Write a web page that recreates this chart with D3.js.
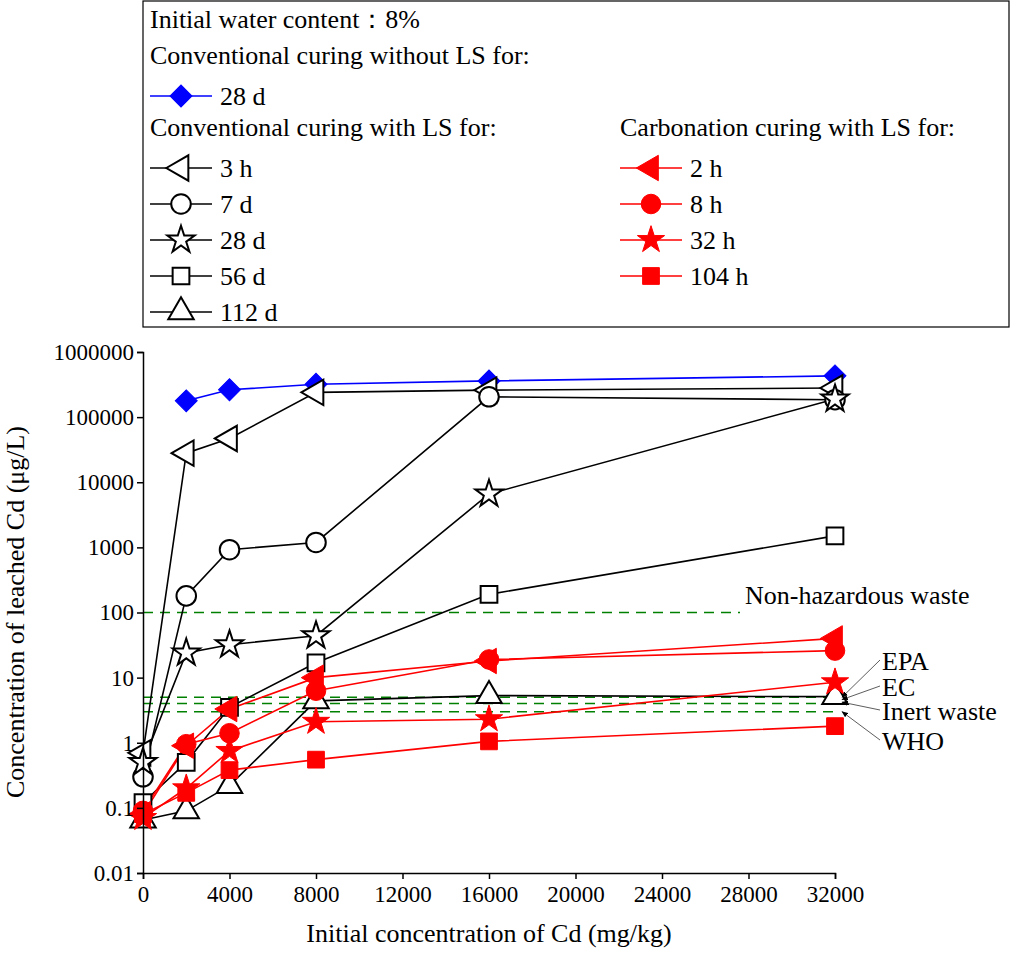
<!DOCTYPE html>
<html><head><meta charset="utf-8">
<script src="https://cdn.jsdelivr.net/npm/d3@7"></script>
<style>body{margin:0;background:#fff}svg text{font-family:"Liberation Serif","DejaVu Serif","Noto Serif",serif !important}</style>
</head><body><svg id="c" width="1016" height="954"></svg>
<script>
const xVals=[0,2000,4000,8000,16000,32000];
const blue28d=[null,178000,263000,320000,360000,430000];
const conv3h=[0.7,28000,47000,240000,260000,280000];
const conv7d=[0.3,180,920,1190,205000,185000];
const conv28d=[0.5,24,32,44,6600,190000];
const conv56d=[0.12,0.5,3.5,16.9,190,1500];
const conv112d=[0.065,0.09,0.22,4.4,5.3,5.1];
const carb2h=[0.08,0.9,3.3,10,18,40];
const carb8h=[0.09,0.95,1.4,6.3,19,26];
const carb32h=[0.07,0.2,0.75,2.1,2.3,8.5];
const carb104h=[0.08,0.17,0.38,0.55,1.05,1.8];
const limits=[100,5,4,3];
const xTicks=[0,4000,8000,12000,16000,20000,24000,28000,32000];
const yTicks=[0.01,0.1,1,10,100,1000,10000,100000,1000000];

const svg=d3.select("#c");
const x=d3.scaleLinear().domain([0,32000]).range([143,835]);
const y=d3.scaleLog().domain([0.01,1000000]).range([873,352]);
const series=[
 {d:blue28d,c:"#0000ff",s:"diamond",f:true},
 {d:conv3h,c:"#000",s:"ltri",f:false},
 {d:conv7d,c:"#000",s:"circle",f:false},
 {d:conv28d,c:"#000",s:"star",f:false},
 {d:conv56d,c:"#000",s:"square",f:false},
 {d:conv112d,c:"#000",s:"tri",f:false},
 {d:carb2h,c:"#ff0000",s:"ltri",f:true},
 {d:carb8h,c:"#ff0000",s:"circle",f:true},
 {d:carb32h,c:"#ff0000",s:"star",f:true},
 {d:carb104h,c:"#ff0000",s:"square",f:true}];
const shp={diamond:d3.symbol(d3.symbolSquare,240),circle:d3.symbol(d3.symbolCircle,300),star:d3.symbol(d3.symbolStar,230),square:d3.symbol(d3.symbolSquare,280),tri:d3.symbol(d3.symbolTriangle,280),ltri:d3.symbol(d3.symbolTriangle,280)};
function mark(g,s,c,f,cx,cy){
 g.append("path").attr("d",shp[s]()).attr("transform",`translate(${cx},${cy})`+(s==="ltri"?" rotate(-90)":"")+(s==="diamond"?" rotate(45)":""))
  .attr("fill",f?c:"#fff").attr("stroke",c).attr("stroke-width",f?1:2);
}
limits.forEach(v=>svg.append("line").attr("x1",143).attr("x2",v===100?740:835).attr("y1",y(v)).attr("y2",y(v)).attr("stroke","#008000").attr("stroke-width",1.6).attr("stroke-dasharray","10,7"));
const line=d3.line().defined(d=>d[1]!=null).x(d=>x(d[0])).y(d=>y(d[1]));
series.forEach(s=>{
 const pts=xVals.map((v,i)=>[v,s.d[i]]);
 svg.append("path").attr("d",line(pts)).attr("fill","none").attr("stroke",s.c).attr("stroke-width",1.6);
});
series.forEach(s=>{xVals.forEach((v,i)=>{if(s.d[i]!=null)mark(svg,s.s,s.c,s.f,x(v),y(s.d[i]));});});
const ax=svg.append("g").attr("transform","translate(0,873)").call(d3.axisBottom(x).tickValues(xTicks).tickFormat(d3.format("d")).tickSizeOuter(0).tickSize(6));
ax.selectAll("text").attr("font-size",23).attr("fill","#000").attr("dy","0.85em");
const ay=svg.append("g").attr("transform","translate(143,0)").call(d3.axisLeft(y).tickValues(yTicks).tickFormat(d=>d3.format("")(d)).tickSizeOuter(0).tickSize(6));
ay.selectAll("text").attr("font-size",23).attr("fill","#000");
svg.selectAll(".domain,.tick line").attr("stroke","#000").attr("stroke-width",1.5);
svg.append("text").attr("x",489).attr("y",942).attr("text-anchor","middle").attr("font-size",26).text("Initial concentration of Cd (mg/kg)");
svg.append("text").attr("transform","translate(24,612) rotate(-90)").attr("text-anchor","middle").attr("font-size",26).text("Concentration of leached Cd (μg/L)");
svg.append("defs").append("marker").attr("id","ar").attr("viewBox","0 0 10 10").attr("refX",9).attr("refY",5).attr("markerWidth",8).attr("markerHeight",8).attr("orient","auto").append("path").attr("d","M0,1L10,5L0,9z").attr("fill","#000");
svg.append("text").attr("x",745).attr("y",604).attr("font-size",26).text("Non-hazardous waste");
const ann=[["EPA",882,670,5],["EC",882,696,4.6],["Inert waste",882,720,4.2],["WHO",882,750,3]];
ann.forEach(a=>{svg.append("text").attr("x",a[1]).attr("y",a[2]).attr("font-size",26).text(a[0]);
 svg.append("line").attr("x1",a[1]-2).attr("y1",a[2]-10).attr("x2",842).attr("y2",y(a[3])).attr("stroke","#333").attr("stroke-width",0.8).attr("marker-end","url(#ar)");});
svg.append("rect").attr("x",143).attr("y",1).attr("width",866).attr("height",326).attr("fill","none").attr("stroke","#000").attr("stroke-width",1.2);
const lt=(t,xx,yy)=>svg.append("text").attr("x",xx).attr("y",yy).attr("font-size",26).text(t);
lt("Initial water content：8%",150,28);
lt("Conventional curing without LS for:",150,64);
lt("Conventional curing with LS for:",150,136);
lt("Carbonation curing with LS for:",620,136);
const legItems=[[0,150,105,"28 d"],[1,150,177,"3 h"],[2,150,213,"7 d"],[3,150,249,"28 d"],[4,150,285,"56 d"],[5,150,321,"112 d"],[6,620,177,"2 h"],[7,620,213,"8 h"],[8,620,249,"32 h"],[9,620,285,"104 h"]];
legItems.forEach(([i,lx,ly,t])=>{const s=series[i];
 svg.append("line").attr("x1",lx).attr("x2",lx+62).attr("y1",ly-9).attr("y2",ly-9).attr("stroke",s.c).attr("stroke-width",1.6);
 mark(svg,s.s,s.c,s.f,lx+31,ly-9);
 lt(t,lx+70,ly);});
</script></body></html>
